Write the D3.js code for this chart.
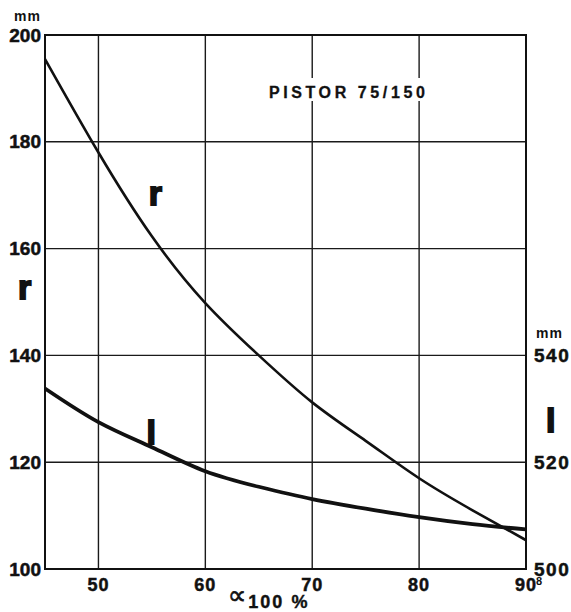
<!DOCTYPE html>
<html>
<head>
<meta charset="utf-8">
<script src="https://cdn.jsdelivr.net/npm/d3@7"></script>
<style>
    body{margin:0;background:#fff;}
    svg{display:block;}
    text{font-family:"Liberation Sans",Arial,sans-serif;font-weight:bold;fill:#111;}
</style>
</head>
<body>
<div id="vizHolder"></div>
<script>
// alpha values (x) and the two curves
const alpha = [45, 50, 55, 60, 65, 70, 75, 80, 85, 90];
const rValues = [195.5, 178, 162.3, 149.8, 140, 131.2, 124, 117, 111, 105.4];
const lValues = [533.8, 527.5, 522.8, 518.3, 515.4, 513.1, 511.3, 509.7, 508.4, 507.4];
const xTicks = [50, 60, 70, 80, 90];
const rTicks = [100, 120, 140, 160, 180, 200];
const lTicks = [500, 520, 540];

let graphicopt = {
    margin: {top: 35, right: 45, bottom: 43, left: 45},
    width: 571,
    height: 612,
    widthG: function () {
        return this.width - this.margin.left - this.margin.right
    },
    heightG: function () {
        return this.height - this.margin.top - this.margin.bottom
    },
};

const svg = d3.select('#vizHolder').append('svg')
    .attr('width', graphicopt.width)
    .attr('height', graphicopt.height);
const g = svg.append('g')
    .attr('transform', `translate(${graphicopt.margin.left},${graphicopt.margin.top})`);

let xscale = d3.scaleLinear().domain([45, 90]).range([0, graphicopt.widthG()]);
let yscale = d3.scaleLinear().domain([100, 200]).range([graphicopt.heightG(), 0]);
// l axis shares the same mm per unit, 500 sits on 100
let lscale = d3.scaleLinear().domain([500, 600]).range([graphicopt.heightG(), 0]);

// grid
g.append('g').attr('class', 'grid')
    .selectAll('line.gx').data(xTicks.filter(d => d < 90))
    .join('line').attr('class', 'gx')
    .attr('x1', d => xscale(d)).attr('x2', d => xscale(d))
    .attr('y1', 0).attr('y2', graphicopt.heightG())
    .attr('stroke', '#1a1a1a').attr('stroke-width', 1.4);
g.select('.grid')
    .selectAll('line.gy').data(rTicks.filter(d => d > 100 && d < 200))
    .join('line').attr('class', 'gy')
    .attr('x1', 0).attr('x2', graphicopt.widthG())
    .attr('y1', d => yscale(d)).attr('y2', d => yscale(d))
    .attr('stroke', '#1a1a1a').attr('stroke-width', 1.4);

// title with white knock-out behind it
const title = g.append('text')
    .attr('x', xscale(65.95)).attr('y', 63)
    .style('font-size', '16px').style('letter-spacing', '3.6px')
    .attr('stroke', '#111').attr('stroke-width', 0.3)
    .text('PISTOR 75/150');
const tb = title.node().getBBox();
g.insert('rect', 'text')
    .attr('x', tb.x - 2).attr('y', tb.y - 6)
    .attr('width', tb.width - 6).attr('height', tb.height + 6)
    .attr('fill', '#fff');

// frame
g.append('rect')
    .attr('width', graphicopt.widthG()).attr('height', graphicopt.heightG())
    .attr('fill', 'none').attr('stroke', '#111').attr('stroke-width', 2);

// curves
const lineR = d3.line().curve(d3.curveNatural)
    .x((d, i) => xscale(alpha[i])).y(d => yscale(d));
const lineL = d3.line().curve(d3.curveNatural)
    .x((d, i) => xscale(alpha[i])).y(d => lscale(d));
g.append('path').datum(rValues).attr('d', lineR)
    .attr('fill', 'none').attr('stroke', '#111').attr('stroke-width', 2.6);
g.append('path').datum(lValues).attr('d', lineL)
    .attr('fill', 'none').attr('stroke', '#111').attr('stroke-width', 3.8);

// left axis labels
g.append('g').selectAll('text').data(rTicks)
    .join('text')
    .attr('x', -4).attr('y', d => yscale(d)).attr('dy', '0.35em')
    .attr('text-anchor', 'end')
    .style('font-size', '19px')
    .attr('stroke', '#111').attr('stroke-width', 0.5)
    .text(d => d);
g.append('text').attr('x', -4).attr('y', -14).attr('text-anchor', 'end')
    .style('font-size', '14px').style('letter-spacing', '1px').text('mm');

// right axis labels
g.append('g').selectAll('text').data(lTicks)
    .join('text')
    .attr('x', graphicopt.widthG() + 8).attr('y', d => lscale(d)).attr('dy', '0.35em')
    .style('font-size', '19px').style('letter-spacing', '1.5px')
    .attr('stroke', '#111').attr('stroke-width', 0.5)
    .text(d => d);
g.append('text').attr('x', graphicopt.widthG() + 10).attr('y', lscale(540) - 17)
    .style('font-size', '14px').style('letter-spacing', '1px').text('mm');

// bottom labels
g.append('g').selectAll('text').data(xTicks)
    .join('text')
    .attr('x', d => xscale(d)).attr('y', graphicopt.heightG() + 22)
    .attr('text-anchor', 'middle')
    .style('font-size', '18px').style('letter-spacing', '1px')
    .attr('stroke', '#111').attr('stroke-width', 0.5)
    .text(d => d);
g.append('text').attr('x', xscale(90) + 10).attr('y', graphicopt.heightG() + 16)
    .style('font-size', '11px').text('8');

// x axis title
const xt = g.append('text').attr('x', xscale(62.1)).attr('y', graphicopt.heightG() + 35);
xt.append('tspan').style('font-family', 'DejaVu Sans').style('font-size', '26px')
    .style('font-weight', 'normal').attr('stroke', '#111').attr('stroke-width', 0.6)
    .text('\u221D');
xt.append('tspan').attr('dy', 4).attr('dx', 2).style('font-size', '18px')
    .style('letter-spacing', '2px').attr('stroke', '#111').attr('stroke-width', 0.4)
    .text('100 %');

// big curve letters
const big = [
    {t: 'r', x: -27, y: yscale(150.5)},
    {t: 'r', x: xscale(54.7), y: yscale(168.2)},
    {t: 'l', x: xscale(54.5), y: yscale(123.4)},
    {t: 'l', x: graphicopt.widthG() + 20, y: yscale(125.6)}
];
g.append('g').selectAll('text').data(big)
    .join('text')
    .attr('x', d => d.x).attr('y', d => d.y)
    .style('font-size', '34px')
    .style('font-weight', '900')
    .attr('stroke', '#111').attr('stroke-width', 1.8)
    .text(d => d.t);
</script>
</body>
</html>
